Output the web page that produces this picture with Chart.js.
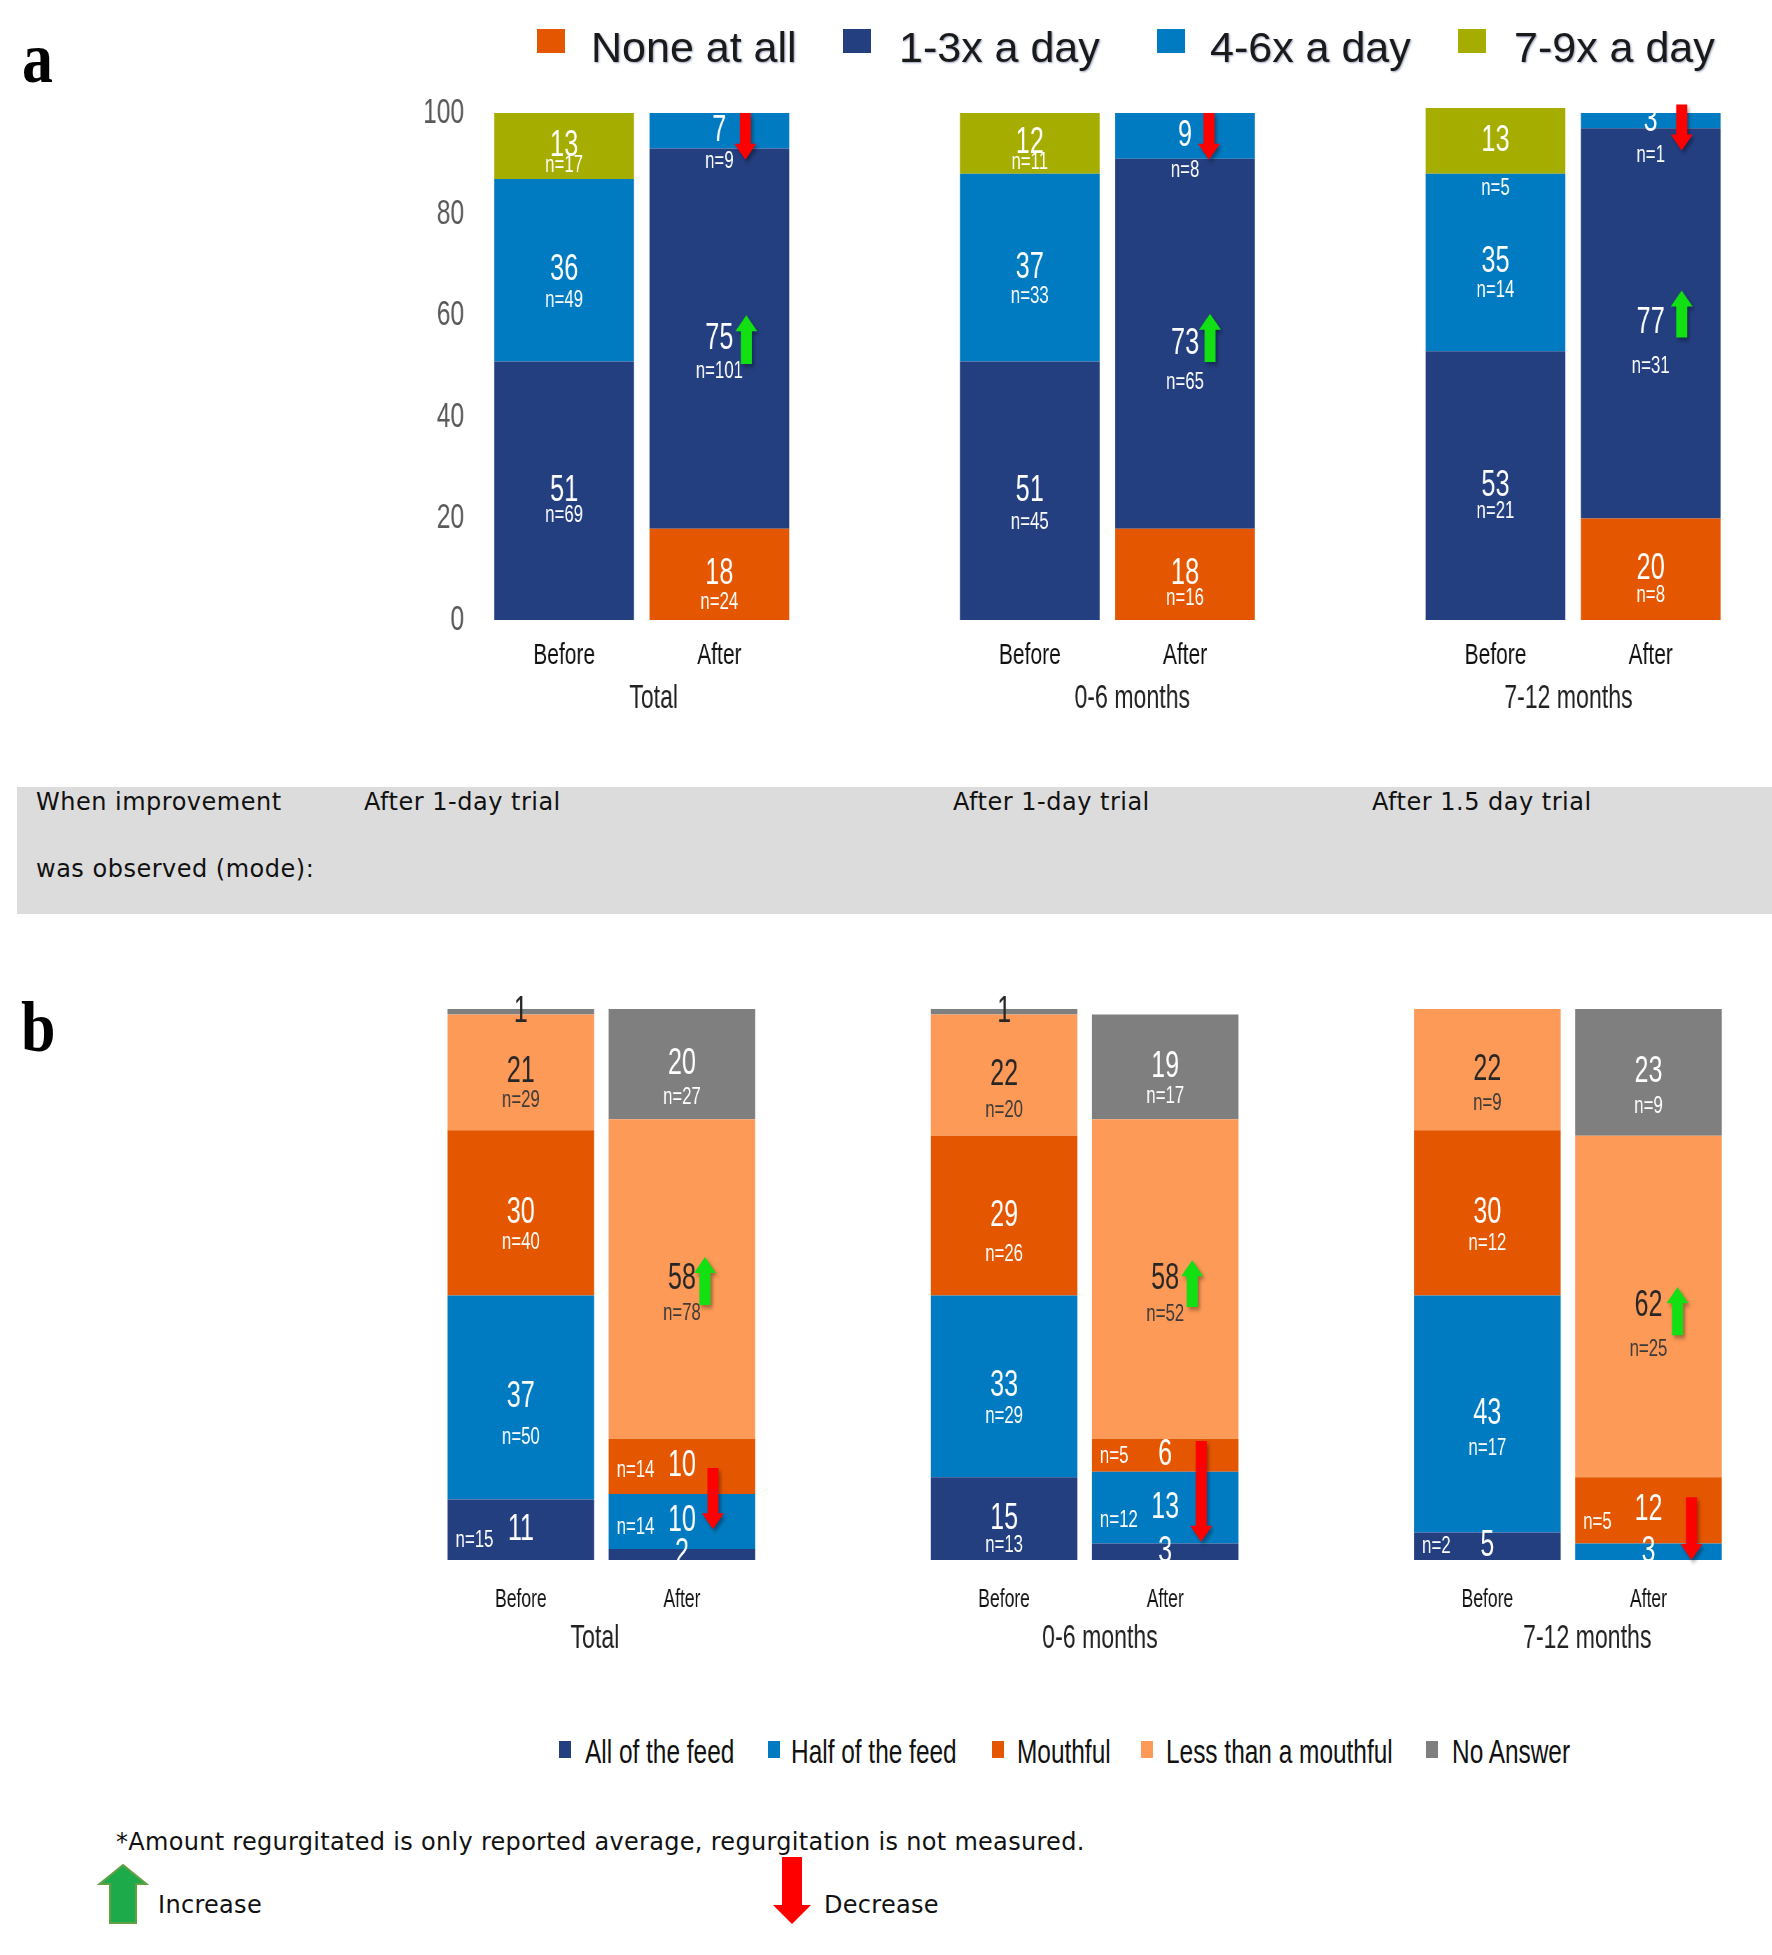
<!DOCTYPE html>
<html><head><meta charset="utf-8"><title>Regurgitation frequency and amount</title>
<script src="https://cdn.jsdelivr.net/npm/chart.js@4.4.1/dist/chart.umd.min.js"></script>
<style>
html,body{margin:0;padding:0;overflow:hidden;background:#fff}
body{position:relative;width:1772px;height:1955px}
.wrap{position:absolute;left:0;transform:scaleX(0.7);transform-origin:0 0}
.t{position:absolute;white-space:nowrap}
.sq{position:absolute}
.tah{font-family:"DejaVu Sans",Verdana,sans-serif;font-size:24px;line-height:24px;color:#111;letter-spacing:0.5px}
.foot{font-family:"DejaVu Sans",Verdana,sans-serif;font-size:24px;line-height:24px;color:#111;letter-spacing:0.3px}
.lega{font-family:"Liberation Sans",Arial,sans-serif;font-size:43px;line-height:43px;color:#1a1a1a;text-shadow:1px 1px 2px rgba(30,50,110,0.45)}
.legb{font-family:"Liberation Sans",Arial,sans-serif;font-size:33px;line-height:33px;color:#111;transform:scaleX(0.74);transform-origin:0 0}
.letter{font-family:"Liberation Serif","Times New Roman",serif;font-weight:bold;font-size:72px;line-height:72px;color:#000;transform:scaleX(0.86);transform-origin:0 0}
#band{position:absolute;left:17px;top:787px;width:1755px;height:127px;background:#DCDCDC}
</style></head><body>
<div class="wrap" id="wa" style="top:0"><canvas id="ca" width="2531" height="760"></canvas></div>
<div class="wrap" id="wb" style="top:980px"><canvas id="cb" width="2531" height="720"></canvas></div>

<div class="t letter" style="left:22px;top:22px">a</div>
<div class="t letter" style="left:21px;top:991px">b</div>

<div id="band"></div>
<div class="t tah" style="left:36px;top:790px">When improvement</div>
<div class="t tah" style="left:36px;top:857px">was observed (mode):</div>
<div class="t tah" style="left:364px;top:790px">After 1-day trial</div>
<div class="t tah" style="left:953px;top:790px">After 1-day trial</div>
<div class="t tah" style="left:1372px;top:790px">After 1.5 day trial</div>

<div id="legA"></div>
<div id="legB"></div>

<div class="t foot" style="left:116px;top:1830px">*Amount regurgitated is only reported average, regurgitation is not measured.</div>
<div class="t foot" style="left:158px;top:1893px">Increase</div>
<div class="t foot" style="left:824px;top:1893px">Decrease</div>
<svg class="t" style="left:0;top:1840px" width="900" height="100" viewBox="0 1840 900 100">
<polygon points="123,1865 146.5,1884 136,1884 136,1923 110,1923 110,1884 99.5,1884" fill="#1DAA4B" stroke="#62A044" stroke-width="2"/>
<polygon points="782,1857 802,1857 802,1905 811,1905 792,1924 773,1905 782,1905" fill="#FF0000"/>
</svg>

<script>
const S = 0.7;
const FONT = '"Liberation Sans", Arial, sans-serif';

// ---- shared categories ----
const slotLabels = ['Before','After','','Before','After','','Before','After'];
const groupLabels = ['Total','0-6 months','7-12 months'];

// ---- panel a: regurgitation frequency (%) ----
const aSeries = ['None at all','1-3x a day','4-6x a day','7-9x a day'];
const aNone  = [0, 18, null, 0, 18, null, 0, 20];
const aLow   = [51, 75, null, 51, 73, null, 53, 77];
const aMid   = [36, 7, null, 37, 9, null, 35, 3];
const aHigh  = [13, 0, null, 12, 0, null, 13, 0];
const aNoneN = [null, 24, null, null, 16, null, null, 8];
const aLowN  = [69, 101, null, 45, 65, null, 21, 31];
const aMidN  = [49, 9, null, 33, 8, null, 14, 1];
const aHighN = [17, null, null, 11, null, null, 5, null];

// ---- panel b: amount regurgitated (%) ----
const bSeries = ['All of the feed','Half of the feed','Mouthful','Less than a mouthful','No Answer'];
const bAll    = [11, 2, null, 15, 3, null, 5, 0];
const bHalf   = [37, 10, null, 33, 13, null, 43, 3];
const bMouth  = [30, 10, null, 29, 6, null, 30, 12];
const bLess   = [21, 58, null, 22, 58, null, 22, 62];
const bNoAns  = [1, 20, null, 1, 19, null, 0, 23];
const bAllN   = [15, null, null, 13, null, null, 2, null];
const bHalfN  = [50, 14, null, 29, 12, null, 17, null];
const bMouthN = [40, 14, null, 26, 5, null, 12, 5];
const bLessN  = [29, 78, null, 20, 52, null, 9, 25];
const bNoAnsN = [null, 27, null, null, 17, null, null, 9];

// ---- styles / placement ----
const aColors = ['#E45700','#243F80','#007BC1','#A5AD00'];
const bColors = ['#243F80','#007BC1','#E45700','#FD9A58','#7F7F7F'];
const aGroupPos = [0.577, 3.66, 6.47];
const bGroupPos = [0.46, 3.595, 6.62];

// label offsets (style)
const aNDy = {'1-0':25,'2-0':30,'3-0':19,'0-1':28,'1-1':33,'2-1':31,'1-3':32,'2-3':29,'3-3':19,'0-4':24,'1-4':39,'2-4':35,'1-6':26,'2-6':28,'3-6':47,'0-7':26,'1-7':43,'2-7':35};
const bNDy = {'0-3':27,'1-0':40,'1-3':30,'1-6':34,'2-0':30,'2-3':39,'2-6':31,'3-0':28,'3-1':34,'3-3':35,'3-4':35,'3-6':34,'3-7':43,'4-1':33,'4-4':30,'4-7':34};
const bNLeft = {'0-0':11,'1-1':6,'2-1':4,'1-4':13,'2-4':1,'0-6':0,'2-7':12};

// change arrows (annotation: slot, from value, to value, x offset in px)
const aArrows = [
  {slot:1, from:100, to:90.8, dx:26, color:'#FF0000'},
  {slot:1, from:50.5, to:60.1, dx:27, color:'#12E012'},
  {slot:4, from:100, to:90.8, dx:24, color:'#FF0000'},
  {slot:4, from:50.9, to:60.4, dx:25, color:'#12E012'},
  {slot:7, from:101.7, to:92.6, dx:31, color:'#FF0000'},
  {slot:7, from:55.7, to:65, dx:31, color:'#12E012'}
];
const bArrows = [
  {slot:1, from:46.3, to:55, dx:23, color:'#12E012'},
  {slot:1, from:16.7, to:5.6, dx:31, color:'#FF0000'},
  {slot:4, from:45.9, to:54.4, dx:27, color:'#12E012'},
  {slot:4, from:21.6, to:3.3, dx:36, color:'#FF0000'},
  {slot:7, from:40.8, to:49.5, dx:29, color:'#12E012'},
  {slot:7, from:11.4, to:0, dx:43, color:'#FF0000'}
];

function segLabels(opts){
  return {id:'segLabels', afterDatasetsDraw(chart){
    const ctx = chart.ctx, ca = chart.chartArea;
    ctx.save();
    ctx.beginPath();
    const top = opts.clipTop ? ca.top : 0;
    ctx.rect(0, top, chart.width, ca.bottom - top);
    ctx.clip();
    ctx.textBaseline = 'middle';
    chart.data.datasets.forEach((ds, d) => {
      const meta = chart.getDatasetMeta(d);
      ds.data.forEach((v, i) => {
        if (v == null || v === 0) return;
        const p = meta.data[i].getProps(['x','y','base','width'], true);
        const cy = (p.y + p.base) / 2;
        const h = Math.abs(p.base - p.y);
        const col = opts.color(d, h);
        ctx.fillStyle = col.main;
        ctx.font = opts.mainSize + 'px ' + FONT;
        ctx.textAlign = 'center';
        ctx.fillText(String(v), p.x, cy);
        const n = opts.counts[d][i];
        if (n == null) return;
        ctx.font = opts.nSize + 'px ' + FONT;
        ctx.fillStyle = col.n;
        const key = d + '-' + i;
        if (opts.left && key in opts.left) {
          ctx.textAlign = 'left';
          ctx.fillText('n=' + n, p.x - p.width/2 + 8/S, cy + opts.left[key]);
        } else {
          ctx.textAlign = 'center';
          ctx.fillText('n=' + n, p.x, cy + (key in opts.dy ? opts.dy[key] : opts.dyDefault));
        }
      });
    });
    ctx.restore();
  }};
}

function arrowsPlugin(list){
  return {id:'arrows', afterDatasetsDraw(chart){
    const ctx = chart.ctx, xs = chart.scales.x, ys = chart.scales.y;
    list.forEach(a => {
      const x = xs.getPixelForValue(a.slot) + a.dx / S;
      const y1 = ys.getPixelForValue(a.from), y2 = ys.getPixelForValue(a.to);
      const dir = Math.sign(y2 - y1);
      const hl = 16, hw = 11 / S, sw = 5.5 / S;
      const yb = y2 - dir * hl;
      ctx.save();
      ctx.shadowColor = 'rgba(0,0,0,0.35)'; ctx.shadowBlur = 4; ctx.shadowOffsetX = 3; ctx.shadowOffsetY = 3;
      ctx.fillStyle = a.color;
      ctx.beginPath();
      ctx.moveTo(x - sw, y1); ctx.lineTo(x + sw, y1); ctx.lineTo(x + sw, yb); ctx.lineTo(x + hw, yb);
      ctx.lineTo(x, y2); ctx.lineTo(x - hw, yb); ctx.lineTo(x - sw, yb); ctx.closePath(); ctx.fill();
      ctx.restore();
    });
  }};
}

function mkScales(cfg){
  const y = {stacked:true, min:0, max:100, display:cfg.yDisplay,
        ticks:{stepSize:20, font:{family:FONT, size:35}, color:'#595959', padding:32},
        grid:{display:false, drawTicks:false}, border:{display:false}};
  if (cfg.yWidth) y.afterFit = (s) => { s.width = cfg.yWidth; };
  return {
    x: {stacked:true, grid:{display:false, drawTicks:false}, border:{display:false},
        ticks:{font:{family:FONT, size:cfg.tickSize}, color:'#111', padding:cfg.tickPad, autoSkip:false, maxRotation:0},
        afterFit(s){ s.height = cfg.xh; }},
    x2: {type:'linear', position:'bottom', weight:1, min:-0.5, max:7.5, offset:false,
        grid:{display:false, drawTicks:false, offset:false}, border:{display:false},
        afterBuildTicks(s){ s.ticks = cfg.groupPos.map(v => ({value:v})); },
        ticks:{font:{family:FONT, size:33}, color:'#222', padding:cfg.groupPad, autoSkip:false, maxRotation:0,
               callback:(v, i) => groupLabels[i]},
        afterFit(s){ s.height = cfg.x2h; }},
    y
  };
}

// ---- panel a chart ----
new Chart(document.getElementById('ca'), {
  type:'bar',
  data:{labels:slotLabels,
    datasets:[aNone,aLow,aMid,aHigh].map((data,k) => ({label:aSeries[k], data, backgroundColor:aColors[k], borderWidth:0, clip:false}))},
  options:{responsive:false, animation:false, devicePixelRatio:1,
    layout:{padding:{left:0, right:62, top:113, bottom:38}},
    datasets:{bar:{barPercentage:0.9, categoryPercentage:1}},
    plugins:{legend:{display:false}, tooltip:{enabled:false}},
    scales:mkScales({tickSize:30, tickPad:18, xh:54, groupPad:5.5, x2h:48, yDisplay:true, yWidth:695, groupPos:aGroupPos})},
  plugins:[
    segLabels({counts:[aNoneN,aLowN,aMidN,aHighN], mainSize:36, nSize:24, dy:aNDy, dyDefault:28, clipTop:true,
               color:() => ({main:'#fff', n:'#fff'})}),
    arrowsPlugin(aArrows)
  ]
});

// ---- panel b chart ----
new Chart(document.getElementById('cb'), {
  type:'bar',
  data:{labels:slotLabels,
    datasets:[bAll,bHalf,bMouth,bLess,bNoAns].map((data,k) => ({label:bSeries[k], data, backgroundColor:bColors[k], borderWidth:0, clip:false}))},
  options:{responsive:false, animation:false, devicePixelRatio:1,
    layout:{padding:{left:629, right:61, top:29, bottom:41}},
    datasets:{bar:{barPercentage:0.91, categoryPercentage:1}},
    plugins:{legend:{display:false}, tooltip:{enabled:false}},
    scales:mkScales({tickSize:25, tickPad:25.5, xh:56, groupPad:3.2, x2h:43, yDisplay:false, groupPos:bGroupPos})},
  plugins:[
    segLabels({counts:[bAllN,bHalfN,bMouthN,bLessN,bNoAnsN], mainSize:36, nSize:24, dy:bNDy, dyDefault:33, left:bNLeft, clipTop:false,
               color:(d,h) => (d === 3 || (d === 4 && h < 20)) ? {main:'#262626', n:'#3a3a3a'} : {main:'#fff', n:'#fff'}}),
    arrowsPlugin(bArrows)
  ]
});

// ---- HTML legends ----
const legAsq = [537, 843, 1157, 1458], legAtx = [591, 899, 1210, 1514];
const legA = document.getElementById('legA');
aSeries.forEach((name, k) => {
  legA.insertAdjacentHTML('beforeend',
    `<div class="sq" style="left:${legAsq[k]}px;top:29px;width:28px;height:24px;background:${aColors[k]}"></div>` +
    `<div class="t lega" style="left:${legAtx[k]}px;top:26px">${name}</div>`);
});
const legBsq = [559, 768, 992, 1141, 1426], legBtx = [585, 791, 1017, 1166, 1452];
const legB = document.getElementById('legB');
bSeries.forEach((name, k) => {
  legB.insertAdjacentHTML('beforeend',
    `<div class="sq" style="left:${legBsq[k]}px;top:1741px;width:12px;height:17px;background:${bColors[k]}"></div>` +
    `<div class="t legb" style="left:${legBtx[k]}px;top:1735px">${name}</div>`);
});
</script>
</body></html>
